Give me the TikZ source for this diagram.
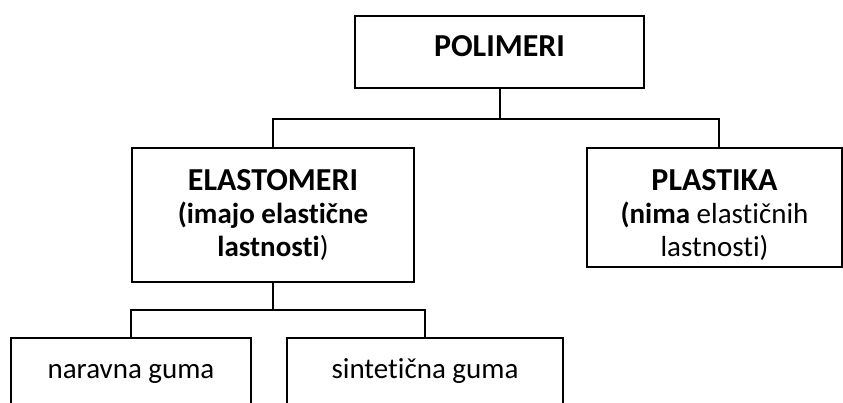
\documentclass[tikz,border=0pt]{standalone}
\usepackage{fontspec}
\setmainfont[Ligatures=NoCommon]{Carlito}
\tikzstyle{box}=[draw,line width=2pt,inner sep=0pt,anchor=north,align=center,font=\fontsize{29}{33}\selectfont]
\tikzstyle{leaf box}=[box,text height=40pt,text depth=40pt]
\tikzstyle{branch}=[draw,line width=2pt,-]
\newcommand{\headfont}{\fontsize{32}{33}\selectfont\bfseries}
\begin{document}
\begin{tikzpicture}[x=1pt,y=-1pt]
    \useasboundingbox (0,0) rectangle (843,403);
    \clip (0,0) rectangle (843,403);
    % the top box
    \node[box,minimum width=289pt,minimum height=72pt,text height=20pt,text depth=10pt] (polimeri) at (499.5,15) {\headfont POLIMERI};
    % the two kinds of polymers
    \node[box,minimum width=282pt,minimum height=134pt] (elastomeri) at (273,147)
        {{\headfont ELASTOMERI}\\\textbf{(imajo elastične}\\\textbf{lastnosti})};
    \node[box,minimum width=255pt,minimum height=119pt] (plastika) at (714.5,147)
        {\rule{0pt}{36pt}{\headfont PLASTIKA}\\\textbf{(nima} elastičnih\\lastnosti)};
    % the two kinds of rubber
    \foreach \pos/\w/\name/\txt in {{(131,337)/240/naravna/naravna guma}, {(425,337)/276/sinteticna/sintetična guma}}
        \node[leaf box,minimum width=\w pt] (\name) at \pos {\txt};
    % connect the boxes
    \draw[branch] (polimeri.south) -- ++(0,30) coordinate (fork1);
    \draw[branch] (elastomeri.north) |- (fork1) -| ([xshift=4.5pt]plastika.north);
    \draw[branch] (elastomeri.south) -- ++(0,27) coordinate (fork2);
    \draw[branch] (naravna.north) |- (fork2) -| (sinteticna.north);
\end{tikzpicture}
\end{document}
